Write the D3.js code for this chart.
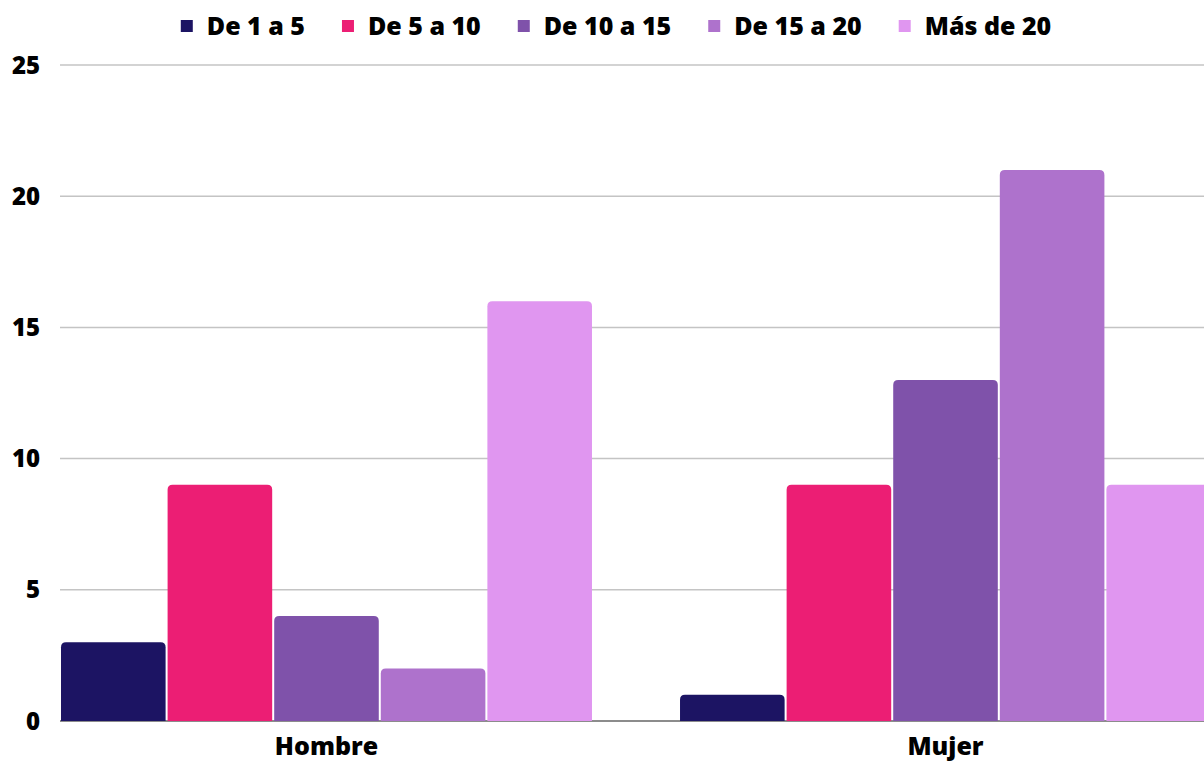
<!DOCTYPE html>
<html>
<head>
<meta charset="utf-8">
<script src="https://cdn.jsdelivr.net/npm/d3@7"></script>
<style>
  body { margin: 0; background: #fff; }
  svg { display: block; font-family: "Open Sans", sans-serif; font-weight: 800; }
</style>
</head>
<body>
<div id="chart"></div>
<script>
// data
const groups = ["Hombre", "Mujer"];
const series = ["De 1 a 5", "De 5 a 10", "De 10 a 15", "De 15 a 20", "Más de 20"];
const hombre = [3, 9, 4, 2, 16];
const mujer = [1, 9, 13, 21, 9];
const yTicks = [0, 5, 10, 15, 20, 25];
const colors = ["#1c1463", "#ec1e74", "#7f52aa", "#ae72cc", "#e096f0"];

const values = { Hombre: hombre, Mujer: mujer };

const W = 1204, H = 762;
const margin = { top: 65, left: 60, bottom: 41 };

const svg = d3.select('#chart').append('svg')
    .attr('width', W)
    .attr('height', H);

const y = d3.scaleLinear()
    .domain([0, 25])
    .range([H - margin.bottom, margin.top]);

// groups run past the right edge, like the original
const x0 = d3.scaleBand()
    .domain(groups)
    .range([margin.left, 1212])
    .paddingInner(0.139)
    .paddingOuter(0);

const x1 = d3.scaleBand()
    .domain(series)
    .range([0, x0.bandwidth()]);

// grid
svg.append('g')
  .selectAll('line')
  .data(yTicks.filter(d => d > 0))
  .enter()
  .append('line')
  .attr('x1', margin.left)
  .attr('x2', W)
  .attr('y1', d => y(d))
  .attr('y2', d => y(d))
  .attr('stroke', '#c4c4c4')
  .attr('stroke-width', 1.5);

// y labels
svg.append('g')
  .selectAll('text')
  .data(yTicks)
  .enter()
  .append('text')
  .attr('x', 40)
  .attr('y', d => y(d))
  .attr('dy', '0.36em')
  .attr('text-anchor', 'end')
  .attr('font-size', 24)
  .text(d => d);

// baseline
svg.append('line')
  .attr('x1', margin.left)
  .attr('x2', W)
  .attr('y1', y(0))
  .attr('y2', y(0))
  .attr('stroke', '#666')
  .attr('stroke-width', 1.5);

// bar with rounded top corners
function barPath(x, yTop, w, yBase, r) {
  r = Math.min(r, (yBase - yTop), w / 2);
  return 'M' + x + ',' + yBase +
    'V' + (yTop + r) +
    'Q' + x + ',' + yTop + ' ' + (x + r) + ',' + yTop +
    'H' + (x + w - r) +
    'Q' + (x + w) + ',' + yTop + ' ' + (x + w) + ',' + (yTop + r) +
    'V' + yBase + 'Z';
}

const rows = [];
groups.forEach(g => {
  values[g].forEach((v, i) => rows.push({ group: g, key: series[i], value: v, i: i }));
});

svg.append('g')
  .selectAll('path')
  .data(rows)
  .enter()
  .append('path')
  .attr('d', d => barPath(x0(d.group) + x1(d.key) + 1, y(d.value), x1.bandwidth() - 2, y(0), 5))
  .attr('fill', d => colors[d.i]);

// x labels
svg.append('g')
  .selectAll('text')
  .data(groups)
  .enter()
  .append('text')
  .attr('x', d => x0(d) + x0.bandwidth() / 2)
  .attr('y', 755)
  .attr('text-anchor', 'middle')
  .attr('font-size', 25)
  .text(d => d);

// legend
const legend = svg.append('g');
let lx = 0;
series.forEach((s, i) => {
  const g = legend.append('g');
  g.append('rect')
    .attr('x', 0).attr('y', -6)
    .attr('width', 12).attr('height', 12)
    .attr('fill', colors[i]);
  const t = g.append('text')
    .attr('x', 26)
    .attr('dy', '0.36em')
    .attr('font-size', 25)
    .text(s);
  const w = 26 + t.node().getComputedTextLength();
  g.attr('transform', 'translate(' + lx + ',0)');
  lx += w + 37;
});
const legendW = lx - 37;
legend.attr('transform', 'translate(' + (616 - legendW / 2) + ',26)');
</script>
</body>
</html>
